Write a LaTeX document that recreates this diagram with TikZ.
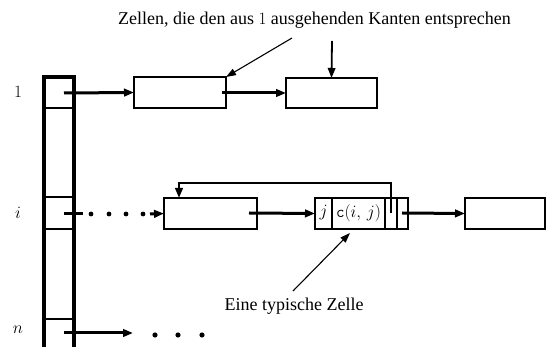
\documentclass[tikz,border=0pt]{standalone}
\usepackage{fontspec}
\setmainfont{Liberation Serif}
\usetikzlibrary{arrows.meta}

\begin{document}
\begin{tikzpicture}[x=1pt,y=-1pt,
  boxst/.style={draw, rectangle, line width=2.8pt, inner sep=0pt, outer sep=0pt},
  colline/.style={line width=3.4pt},
  sepline/.style={line width=2.2pt},
  ptr/.style={line width=3pt, -{Triangle[length=10pt,width=7.5pt]}},
  thinptr/.style={line width=1.1pt, -{Triangle[length=10pt,width=7pt]}},
  lbl/.style={font=\fontsize{18}{20}\selectfont},
  celltxt/.style={font=\fontsize{16.5}{18}\selectfont, inner sep=0pt},
  dot/.style={fill=black}]
\useasboundingbox (0,0) rectangle (547,347);

% vertex array (open at the bottom)
\draw[colline] (44,347) -- (44,77) -- (74,77) -- (74,347);
\draw[sepline] (44,108) -- (74,108);
\draw[sepline] (44,197) -- (74,197);
\draw[sepline] (44,229) -- (74,229);
\draw[sepline] (44,319) -- (74,319);
\coordinate (v1) at (64,93);
\coordinate (vi) at (64,214);
\coordinate (vn) at (64,333);

% row labels
\node[lbl] (l1) at (18,92) {$1$};
\node[lbl] (li) at (18,213) {$i$};
\node[lbl] (ln) at (18,330) {$n$};

% adjacency list of vertex 1
\node[boxst, minimum width=92, minimum height=31] (a1) at (180,92.5) {};
\node[boxst, minimum width=91, minimum height=30] (a2) at (331.5,93) {};
\coordinate (a1p) at (222,93);
\draw[ptr] (v1) -- (a1.west);
\draw[ptr] (a1p) -- (a2.west);

% adjacency list of vertex i
\node[boxst, minimum width=93, minimum height=31] (b1) at (210.5,213.5) {};
\node[boxst, minimum width=93, minimum height=31] (cell) at (361.5,213.5) {};
\node[boxst, minimum width=80, minimum height=31] (b3) at (505,213.5) {};
\draw[line width=2.8pt] (332,198) -- (332,229);
\draw[line width=2.8pt] (385,198) -- (385,229);
\draw[line width=1.3pt] (397,198) -- (397,229);
\node[celltxt] (cj) at (323.5,213) {$j$};
\node[celltxt] (cc) at (358.5,213) {\texttt{c}$(i,\,j)$};
\coordinate (b1p) at (249,213);
\coordinate (cback) at (391,213);
\coordinate (cnext) at (402,213);

\draw[line width=3pt] (vi) -- (83,214);
\foreach \x in {91,109,126,143} \fill[dot] (\x,214) circle (2.4);
\coordinate (dotsend) at (150,214);
\draw[ptr] (dotsend) -- (b1.west);
\draw[ptr] (b1p) -- (cell.west);
\draw[ptr] (cnext) -- (b3.west);
\draw[line width=2.4pt, -{Triangle[length=10pt,width=7.5pt]}] (cback) -- (391,183) -- (179,183) -- (179,198);

% adjacency list of vertex n
\coordinate (nend) at (133,333);
\draw[ptr] (vn) -- (nend);
\foreach \x in {155,178,202} \fill[dot] (\x,335) circle (2.6);

% annotations
\node[lbl, anchor=base] (t1) at (314.5,25) {Zellen, die den aus $1$ ausgehenden Kanten entsprechen};
\coordinate (t1a) at (292,38);
\coordinate (t1b) at (332,41);
\draw[thinptr] (t1a) -- (a1.north east);
\draw[line width=1.8pt, -{Triangle[length=10pt,width=7.5pt]}] (t1b) -- (a2.north);

\node[lbl, anchor=base] (t2) at (294,311) {Eine typische Zelle};
\coordinate (t2a) at (293,291);
\coordinate (t2b) at (350,233);
\draw[thinptr] (t2a) -- (t2b);
\end{tikzpicture}
\end{document}
